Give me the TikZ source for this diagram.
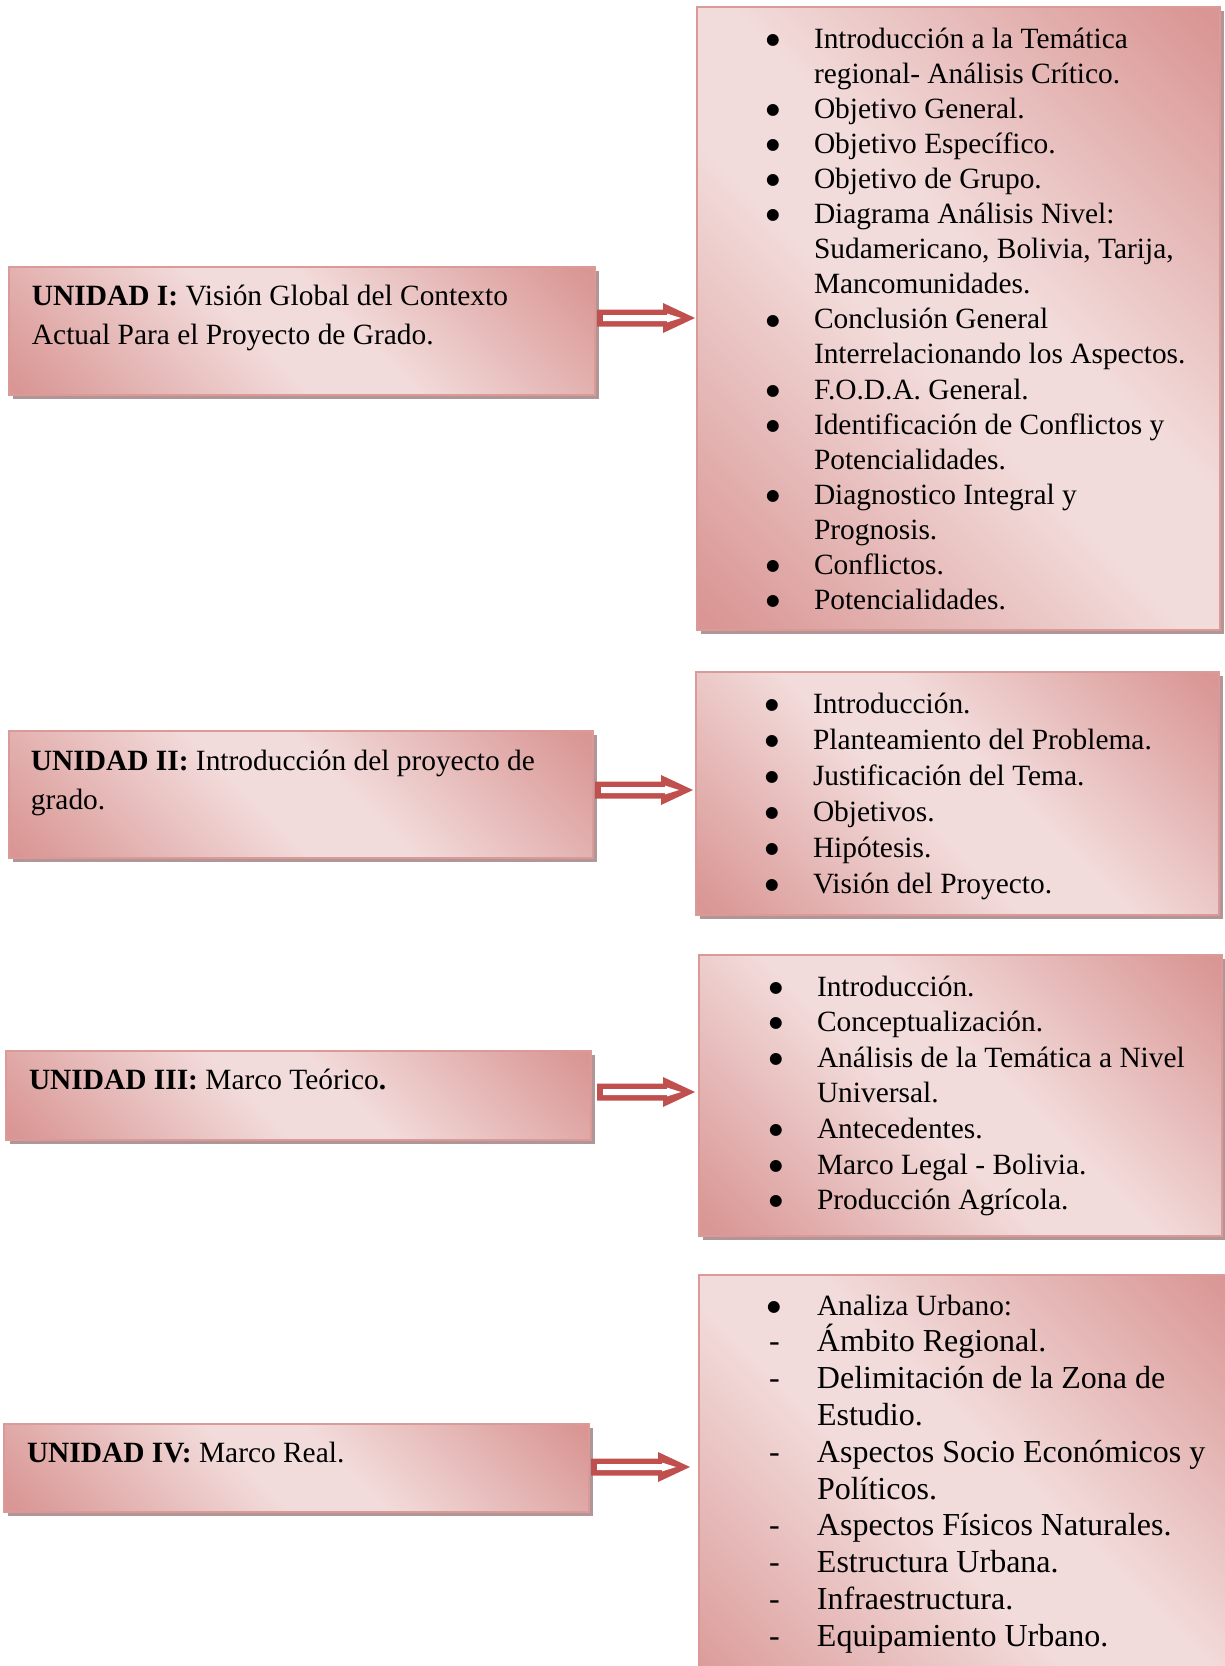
\documentclass[tikz,border=0pt]{standalone}
\usepackage{fontspec}
\setmainfont{Liberation Serif}
\newfontfamily\dotfont{DejaVu Sans}
\usetikzlibrary{shadows,calc}

% palette
\definecolor{rdark}{HTML}{D99694}
\definecolor{rlight}{HTML}{F2DCDB}
\definecolor{rborder}{HTML}{DB9A98}
\definecolor{shadowc}{RGB}{176,150,150}
\definecolor{arrowred}{HTML}{C0504D}

% diagonal pink band: dark corners, light centre
\pgfdeclareverticalshading{rosa}{100bp}{color(0bp)=(rdark); color(16bp)=(rdark);
  color(45bp)=(rlight); color(55bp)=(rlight); color(84bp)=(rdark); color(100bp)=(rdark)}

% list items with hanging indent
\newlength\itemind
\setlength\itemind{23pt}
\newcommand\bigdot{\makebox[5pt][c]{\raisebox{1.9pt}{\fontsize{7.8pt}{8pt}\dotfont ●}}}
\newcommand\bitem[1]{\par\hangindent=\itemind\hangafter=1\noindent\makebox[\itemind][l]{\bigdot}#1}
\newcommand\ditem[1]{\par\hangindent=\itemind\hangafter=1\noindent\makebox[\itemind][l]{-}#1}

% double-walled block arrow from #1 (start) to the x of #2 (tip)
\newcommand\blockarrow[2]{%
  \fill[arrowred] let \p1=(#1), \p2=(#2) in
    (\x1,\y1+4.25pt) -- (\x2-16pt,\y1+4.25pt) -- (\x2-16pt,\y1+7.5pt) -- (\x2,\y1)
    -- (\x2-16pt,\y1-7.5pt) -- (\x2-16pt,\y1-4.25pt) -- (\x1,\y1-4.25pt) -- cycle;
  \fill[white] let \p1=(#1), \p2=(#2) in
    (\x1+3pt,\y1+1.5pt) -- (\x2-14pt,\y1+1.5pt) -- (\x2-14pt,\y1+2.2pt) -- (\x2-7pt,\y1)
    -- (\x2-14pt,\y1-2.2pt) -- (\x2-14pt,\y1-1.5pt) -- (\x1+3pt,\y1-1.5pt) -- cycle;
}

\tikzset{
  panel/.style={draw=rborder, line width=1pt, shade, shading=rosa, shading angle=-45,
    drop shadow={shadow xshift=2pt, shadow yshift=-2pt, fill=shadowc, opacity=1},
    anchor=north west, inner sep=0pt, outer sep=0pt},
  txt/.style={anchor=base west, inner sep=0pt, outer sep=0pt},
}

\begin{document}
\begin{tikzpicture}[x=0.5pt, y=-0.5pt]
\useasboundingbox (0,0) rectangle (1225,1666);

% ---- unit boxes (left) ----
\node[panel, minimum width=293.25pt, minimum height=64pt]   (u1) at (8.5,267) {};
\node[panel, minimum width=292.25pt, minimum height=63.5pt] (u2) at (8.5,731) {};
\node[panel, minimum width=292.5pt,  minimum height=44.5pt] (u3) at (6,1051) {};
\node[panel, minimum width=292.5pt,  minimum height=44pt]   (u4) at (4,1424) {};

% ---- content boxes (right) ----
\node[panel, minimum width=261.5pt, minimum height=311.5pt] (r1) at (697,7) {};
\node[panel, minimum width=261.5pt, minimum height=121.5pt] (r2) at (696,672) {};
\node[panel, minimum width=261.5pt, minimum height=140.5pt] (r3) at (699,955) {};
\node[panel, minimum width=272pt,   minimum height=225pt]   (r4) at (699,1275) {};

% ---- unit titles ----
\node[txt] (t1) at (32,305) {\begin{minipage}[t]{285pt}\fontsize{14.7pt}{19.6pt}\selectfont
  \textbf{UNIDAD I:} Visión Global del Contexto\newline Actual Para el Proyecto de Grado.\end{minipage}};
\node[txt] (t2) at (31,770.5) {\begin{minipage}[t]{285pt}\fontsize{14.7pt}{19.3pt}\selectfont
  \textbf{UNIDAD II:} Introducción del proyecto de\newline grado.\end{minipage}};
\node[txt] (t3) at (29,1089) {\fontsize{14.7pt}{19pt}\selectfont\textbf{UNIDAD III:} Marco Teórico\textbf{.}};
\node[txt] (t4) at (27,1462) {\fontsize{14.7pt}{19pt}\selectfont\textbf{UNIDAD IV:} Marco Real.};

% ---- content lists ----
\node[txt] (l1) at (768,48) {\begin{minipage}[t]{250pt}\fontsize{14.7pt}{17.55pt}\selectfont
  \setlength\itemind{23pt}%
  \bitem{Introducción a la Temática\newline regional- Análisis Crítico.}
  \bitem{Objetivo General.}
  \bitem{Objetivo Específico.}
  \bitem{Objetivo de Grupo.}
  \bitem{Diagrama Análisis Nivel:\newline Sudamericano, Bolivia, Tarija,\newline Mancomunidades.}
  \bitem{Conclusión General\newline Interrelacionando los Aspectos.}
  \bitem{F.O.D.A. General.}
  \bitem{Identificación de Conflictos y\newline Potencialidades.}
  \bitem{Diagnostico Integral y\newline Prognosis.}
  \bitem{Conflictos.}
  \bitem{Potencialidades.}\par
\end{minipage}};

\node[txt] (l2) at (767,713) {\begin{minipage}[t]{250pt}\fontsize{14.7pt}{18.05pt}\selectfont
  \setlength\itemind{23pt}%
  \bitem{Introducción.}
  \bitem{Planteamiento del Problema.}
  \bitem{Justificación del Tema.}
  \bitem{Objetivos.}
  \bitem{Hipótesis.}
  \bitem{Visión del Proyecto.}\par
\end{minipage}};

\node[txt] (l3) at (771,996) {\begin{minipage}[t]{250pt}\fontsize{14.7pt}{17.8pt}\selectfont
  \setlength\itemind{23pt}%
  \bitem{Introducción.}
  \bitem{Conceptualización.}
  \bitem{Análisis de la Temática a Nivel\newline Universal.}
  \bitem{Antecedentes.}
  \bitem{Marco Legal - Bolivia.}
  \bitem{Producción Agrícola.}\par
\end{minipage}};

\node[txt] (l4) at (769,1315) {\begin{minipage}[t]{250pt}\fontsize{14.7pt}{18.4pt}\selectfont
  \setlength\itemind{24pt}%
  \bitem{Analiza Urbano:}\par
  \fontsize{16pt}{18.4pt}\selectfont
  \ditem{Ámbito Regional.}
  \ditem{Delimitación de la Zona de\newline Estudio.}
  \ditem{Aspectos Socio Económicos y\newline Políticos.}
  \ditem{Aspectos Físicos Naturales.}
  \ditem{Estructura Urbana.}
  \ditem{Infraestructura.}
  \ditem{Equipamiento Urbano.}\par
\end{minipage}};

% ---- connectors ----
\blockarrow{[xshift=1pt, yshift=6.5pt]u1.east}{[xshift=-1pt]r1.west}
\blockarrow{[xshift=1pt, yshift=2.25pt]u2.east}{[xshift=-1.5pt]r2.west}
\blockarrow{[xshift=3pt, yshift=1.75pt]u3.east}{[xshift=-2pt]r3.west}
\blockarrow{[xshift=1pt, yshift=0.5pt]u4.east}{[xshift=-4.5pt]r4.west}
\end{tikzpicture}
\end{document}
